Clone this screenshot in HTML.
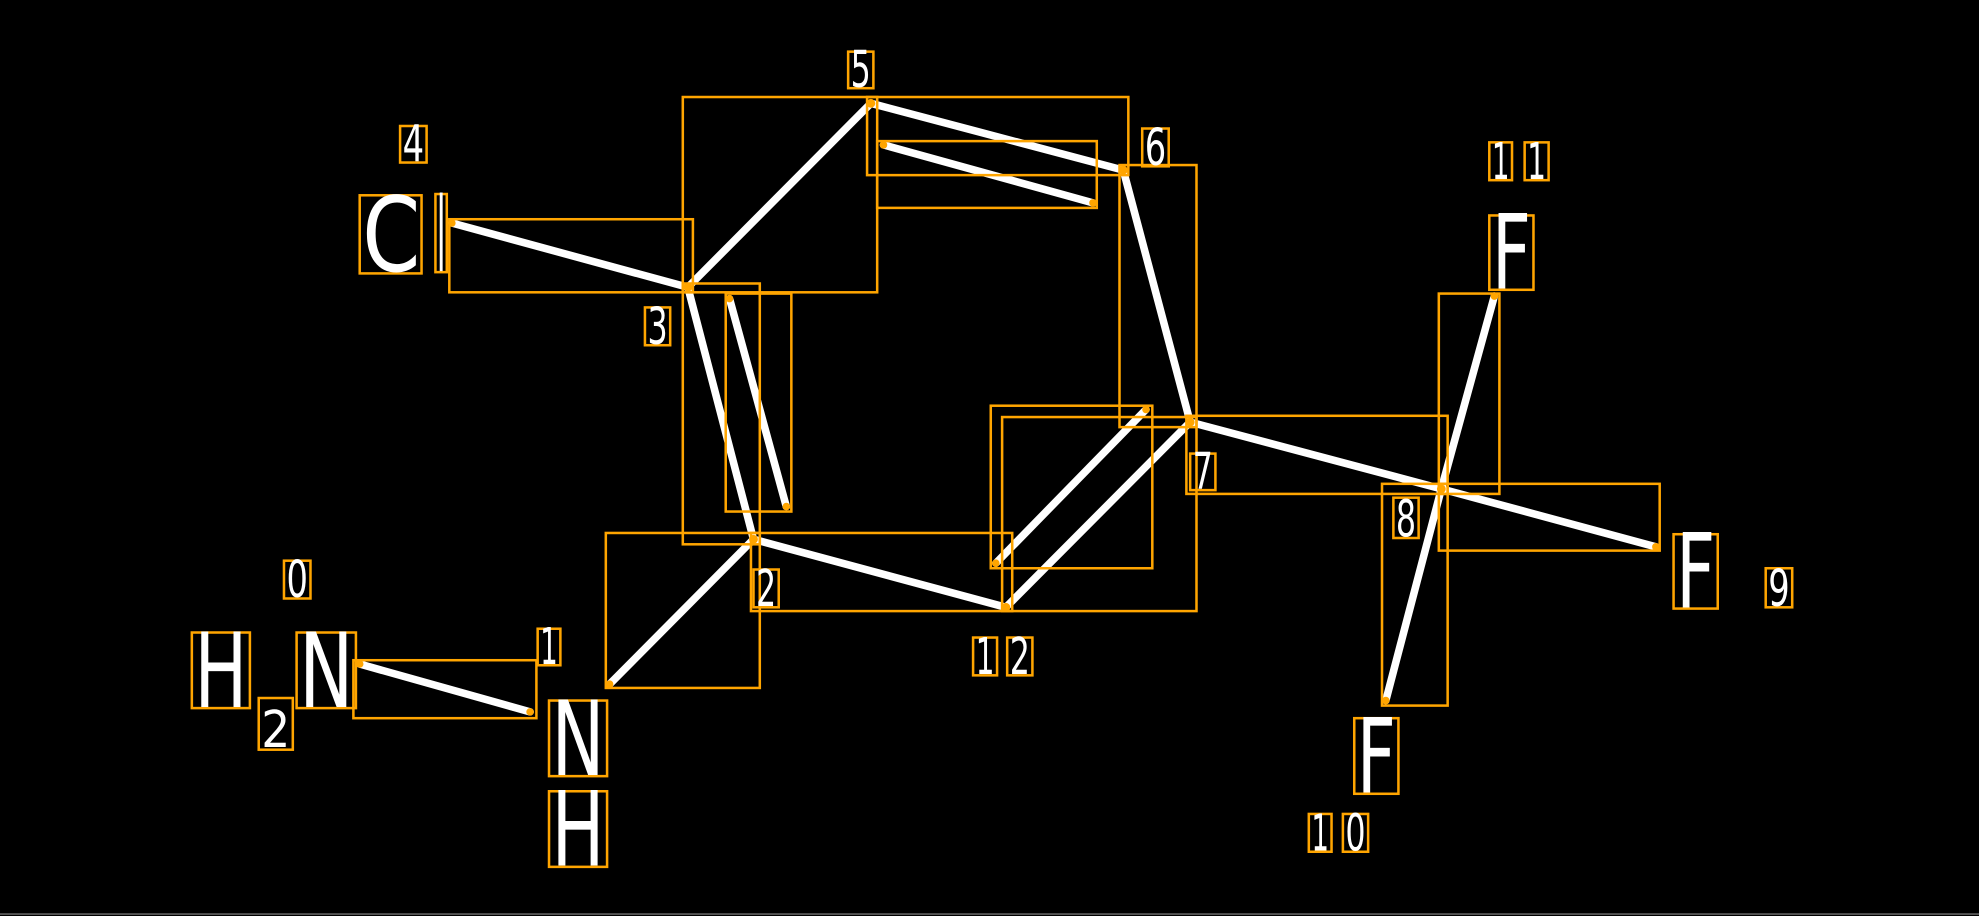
<!DOCTYPE html>
<html><head><style>html,body{margin:0;padding:0;background:#000;width:1979px;height:916px;overflow:hidden}svg{display:block}</style></head>
<body>
<svg width="1979" height="916" viewBox="0 0 1568 727" preserveAspectRatio="none" xmlns="http://www.w3.org/2000/svg">
<rect width="1568" height="727" fill="#000"/>
<line x1="0" y1="725.5" x2="1568" y2="725.5" stroke="#555" stroke-width="1.5"/>
<g stroke="#fff" stroke-width="6" stroke-linecap="round">
<line x1="285" y1="527" x2="420" y2="565"/>
<line x1="483" y1="543" x2="597" y2="428"/>
<line x1="597" y1="428" x2="797" y2="482"/>
<line x1="597" y1="428" x2="545" y2="228"/>
<line x1="578" y1="237" x2="623" y2="402"/>
<line x1="545" y1="228" x2="358" y2="177"/>
<line x1="545" y1="228" x2="690" y2="82"/>
<line x1="690" y1="82" x2="890" y2="135"/>
<line x1="700" y1="115" x2="866" y2="161"/>
<line x1="890" y1="135" x2="943" y2="335"/>
<line x1="943" y1="335" x2="797" y2="482"/>
<line x1="908" y1="325" x2="789" y2="447"/>
<line x1="943" y1="335" x2="1142" y2="388"/>
<line x1="1142" y1="388" x2="1184" y2="235"/>
<line x1="1142" y1="388" x2="1312" y2="434"/>
<line x1="1142" y1="388" x2="1098" y2="556"/>
</g>
<g fill="none" stroke="#FFA500" stroke-width="2">
<rect x="280" y="524" width="145" height="46"/>
<rect x="480" y="423" width="122" height="123"/>
<rect x="595" y="423" width="207" height="62"/>
<rect x="541" y="225" width="61" height="207"/>
<rect x="575" y="233" width="52" height="173"/>
<rect x="356" y="174" width="193" height="58"/>
<rect x="541" y="77" width="154" height="155"/>
<rect x="687" y="77" width="207" height="62"/>
<rect x="695" y="112" width="174" height="53"/>
<rect x="887" y="131" width="61" height="208"/>
<rect x="794" y="331" width="154" height="154"/>
<rect x="785" y="322" width="128" height="129"/>
<rect x="940" y="330" width="207" height="62"/>
<rect x="1140" y="233" width="48" height="159"/>
<rect x="1140" y="384" width="175" height="53"/>
<rect x="1095" y="384" width="52" height="176"/>
<rect x="225" y="445" width="21" height="30"/>
<rect x="152" y="502" width="46" height="60"/>
<rect x="205" y="554" width="27" height="41"/>
<rect x="235" y="502" width="47" height="60"/>
<rect x="426" y="499" width="18" height="29"/>
<rect x="435" y="556" width="46" height="60"/>
<rect x="435" y="628" width="46" height="60"/>
<rect x="597" y="452" width="20" height="30"/>
<rect x="511" y="244" width="20" height="30"/>
<rect x="317" y="100" width="21" height="29"/>
<rect x="285" y="155" width="49" height="62"/>
<rect x="345" y="154" width="9" height="62"/>
<rect x="672" y="41" width="20" height="29"/>
<rect x="905" y="102" width="21" height="30"/>
<rect x="943" y="360" width="20" height="29"/>
<rect x="1104" y="395" width="20" height="32"/>
<rect x="1399" y="451" width="21" height="31"/>
<rect x="1180" y="171" width="35" height="59"/>
<rect x="1326" y="424" width="35" height="59"/>
<rect x="1073" y="570" width="35" height="60"/>
<rect x="1180" y="113" width="18" height="30"/>
<rect x="1208" y="113" width="19" height="30"/>
<rect x="1037" y="646" width="18" height="30"/>
<rect x="1064" y="646" width="20" height="30"/>
<rect x="771" y="506" width="19" height="30"/>
<rect x="798" y="506" width="20" height="30"/>
</g>
<g fill="#FFA500">
<circle cx="285" cy="527" r="3"/><circle cx="420" cy="565" r="3"/>
<circle cx="483" cy="543" r="3"/><circle cx="597" cy="428" r="3.5"/>
<circle cx="797" cy="482" r="3.5"/><circle cx="545" cy="228" r="3.5"/>
<circle cx="578" cy="237" r="3"/><circle cx="623" cy="402" r="3"/>
<circle cx="358" cy="177" r="3"/><circle cx="690" cy="82" r="3.5"/>
<circle cx="890" cy="135" r="3.5"/><circle cx="700" cy="115" r="3"/>
<circle cx="866" cy="161" r="3"/><circle cx="943" cy="335" r="3.5"/>
<circle cx="908" cy="325" r="3"/><circle cx="789" cy="447" r="3"/>
<circle cx="1142" cy="388" r="3.5"/><circle cx="1184" cy="235" r="3"/>
<circle cx="1312" cy="434" r="3"/><circle cx="1098" cy="556" r="3"/>
</g>
<g fill="#fff" font-family="DejaVu Sans, sans-serif" lengthAdjust="spacingAndGlyphs">
<g font-size="82">
<text x="154" y="561" textLength="42" lengthAdjust="spacingAndGlyphs">H</text>
<text x="237" y="561" textLength="43" lengthAdjust="spacingAndGlyphs">N</text>
<text x="437" y="615" textLength="42" lengthAdjust="spacingAndGlyphs">N</text>
<text x="437" y="687" textLength="42" lengthAdjust="spacingAndGlyphs">H</text>
<text x="287" y="215" textLength="46" lengthAdjust="spacingAndGlyphs">C</text>
<text x="346" y="215" textLength="7" lengthAdjust="spacingAndGlyphs">l</text>
<text x="1182" y="229" textLength="31" lengthAdjust="spacingAndGlyphs">F</text>
<text x="1328" y="482" textLength="31" lengthAdjust="spacingAndGlyphs">F</text>
<text x="1075" y="629" textLength="31" lengthAdjust="spacingAndGlyphs">F</text>
</g>
<g font-size="40">
<text x="227" y="474" textLength="17" lengthAdjust="spacingAndGlyphs">0</text>
<text x="207" y="593" textLength="23" lengthAdjust="spacingAndGlyphs">2</text>
<text x="428" y="527" textLength="14" lengthAdjust="spacingAndGlyphs">1</text>
<text x="599" y="481" textLength="16" lengthAdjust="spacingAndGlyphs">2</text>
<text x="513" y="273" textLength="16" lengthAdjust="spacingAndGlyphs">3</text>
<text x="319" y="128" textLength="17" lengthAdjust="spacingAndGlyphs">4</text>
<text x="674" y="69" textLength="16" lengthAdjust="spacingAndGlyphs">5</text>
<text x="907" y="131" textLength="17" lengthAdjust="spacingAndGlyphs">6</text>
<text x="945" y="388" textLength="16" lengthAdjust="spacingAndGlyphs">7</text>
<text x="1106" y="426" textLength="16" lengthAdjust="spacingAndGlyphs">8</text>
<text x="1401" y="481" textLength="17" lengthAdjust="spacingAndGlyphs">9</text>
<text x="1182" y="142" textLength="14" lengthAdjust="spacingAndGlyphs">1</text>
<text x="1210" y="142" textLength="15" lengthAdjust="spacingAndGlyphs">1</text>
<text x="1039" y="675" textLength="14" lengthAdjust="spacingAndGlyphs">1</text>
<text x="1066" y="675" textLength="16" lengthAdjust="spacingAndGlyphs">0</text>
<text x="773" y="535" textLength="15" lengthAdjust="spacingAndGlyphs">1</text>
<text x="800" y="535" textLength="16" lengthAdjust="spacingAndGlyphs">2</text>
</g>
</g>
</svg>
</body></html>
